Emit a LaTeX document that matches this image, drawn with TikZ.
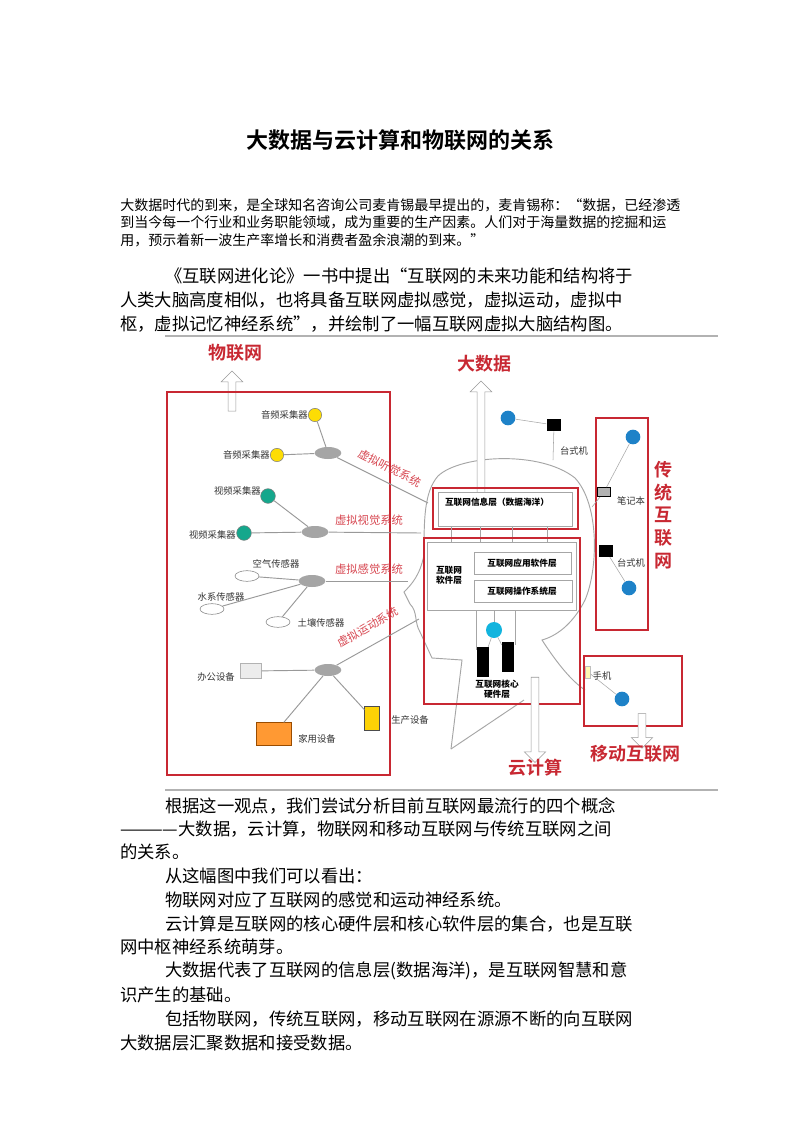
\documentclass[tikz,border=0pt]{standalone}
\usepackage{fontspec}
\setmainfont{Noto Sans CJK SC}
\newfontfamily\cjkbold{Noto Sans CJK SC Bold}
\usetikzlibrary{shapes.arrows,shapes.geometric}
\definecolor{boxred}{RGB}{200,40,50}
\definecolor{labred}{RGB}{215,70,80}
\definecolor{hubgray}{RGB}{165,165,165}
\definecolor{headblue}{RGB}{30,130,200}
\tikzset{
  txt/.style={anchor=west,inner sep=0pt,font=\fontsize{13}{15}\selectfont},
  smalltxt/.style={anchor=west,inner sep=0pt,font=\fontsize{10.5}{12}\selectfont},
  redbox/.style={draw=boxred,line width=1.2pt},
  graybox/.style={draw=gray!70,line width=0.6pt},
  bigred/.style={text=boxred,font=\cjkbold\fontsize{13.5}{15}\selectfont,inner sep=0pt},
  sysred/.style={text=labred,font=\fontsize{8.5}{10}\selectfont,inner sep=0pt},
  devtxt/.style={font=\fontsize{7}{8}\selectfont,inner sep=0pt,text=black!80},
  laytxt/.style={font=\bfseries\fontsize{6.5}{7.5}\selectfont,inner sep=0pt},
  hub/.style={ellipse,fill=hubgray,minimum width=20pt,minimum height=9pt,inner sep=0pt},
  sensor/.style={ellipse,draw=gray,minimum width=18pt,minimum height=8pt,inner sep=0pt},
  link/.style={draw=gray!80,line width=0.7pt},
  hollow/.style={single arrow,draw=gray!80,fill=white,single arrow head extend=4pt,minimum width=16pt,inner sep=2pt},
  person/.style={circle,fill=headblue,minimum size=11pt,inner sep=0pt},
  screen/.style={rectangle,fill=black,minimum width=11pt,minimum height=9pt,inner sep=0pt},
  audio/.style={circle,fill=yellow!80!orange,draw=gray,minimum size=10pt,inner sep=0pt},
  video/.style={circle,fill=headblue!70!green,draw=gray,minimum size=11pt,inner sep=0pt}
}
\begin{document}
\begin{tikzpicture}[x=0.75pt,y=-0.75pt]
\useasboundingbox (0,0) rectangle (800,1132);
\fill[white] (0,0) rectangle (800,1132);

% title and first paragraphs
\node[font=\cjkbold\fontsize{16.5}{18}\selectfont,inner sep=0pt] (title) at (400,140) {大数据与云计算和物联网的关系};
\node[smalltxt] (p1a) at (120,205) {大数据时代的到来，是全球知名咨询公司麦肯锡最早提出的，麦肯锡称：“数据，已经渗透};
\node[smalltxt] (p1b) at (120,222) {到当今每一个行业和业务职能领域，成为重要的生产因素。人们对于海量数据的挖掘和运};
\node[smalltxt] (p1c) at (120,240) {用，预示着新一波生产率增长和消费者盈余浪潮的到来。”};
\node[txt] (p2a) at (165,276) {《互联网进化论》一书中提出“互联网的未来功能和结构将于};
\node[txt] (p2b) at (120,300) {人类大脑高度相似，也将具备互联网虚拟感觉，虚拟运动，虚拟中};
\node[txt] (p2c) at (120,324) {枢，虚拟记忆神经系统”，并绘制了一幅互联网虚拟大脑结构图。};

% frame lines
\draw[gray!60,line width=1.2pt] (165,336) -- (718,336);
\draw[gray!60,line width=1.2pt] (165,790) -- (718,790);

% Internet of things
\node[bigred] (iot) at (235,353) {物联网};
\node[hollow,shape border rotate=90,minimum height=30pt] (iotarrow) at (232,393) {};
\draw[redbox] (167,392) rectangle (390,775);

\node[hub] (hub1) at (328,453) {};
\node[audio] (au1) at (315,415) {};
\node[devtxt,anchor=east] (au1t) at (308,415) {音频采集器};
\node[audio] (au2) at (277,455) {};
\node[devtxt,anchor=east] (au2t) at (270,455) {音频采集器};
\draw[link] (au1) -- (hub1);
\draw[link] (au2) -- (hub1);
\coordinate (ear) at (428,503);
\draw[link] (hub1) -- (ear);
\node[sysred,rotate=-27] (sys1) at (390,468) {虚拟听觉系统};

\node[hub] (hub2) at (315,532) {};
\node[video] (vi1) at (268,496) {};
\node[devtxt,anchor=east] (vi1t) at (261,491) {视频采集器};
\node[video] (vi2) at (244,533) {};
\node[devtxt,anchor=east] (vi2t) at (236,535) {视频采集器};
\draw[link] (vi1) -- (hub2);
\draw[link] (vi2) -- (hub2);
\coordinate (eye) at (421,533);
\draw[link] (hub2) -- (eye);
\node[sysred] (sys2) at (369,520) {虚拟视觉系统};

\node[hub] (hub3) at (312,581) {};
\node[sensor] (se1) at (247,576) {};
\node[devtxt] (se1t) at (276,564) {空气传感器};
\node[sensor] (se2) at (212,609) {};
\node[devtxt] (se2t) at (221,597) {水系传感器};
\node[sensor] (se3) at (278,622) {};
\node[devtxt] (se3t) at (321,623) {土壤传感器};
\draw[link] (se1) -- (hub3);
\draw[link] (se2) -- (hub3);
\draw[link] (se3) -- (hub3);
\coordinate (nose) at (408,581);
\draw[link] (hub3) -- (nose);
\node[sysred] (sys3) at (369,569) {虚拟感觉系统};

\node[hub] (hub4) at (328,670) {};
\node[rectangle,fill=gray!15,draw=gray!60,minimum width=16pt,minimum height=11pt,inner sep=0pt] (office) at (251,671) {};
\node[devtxt,anchor=east] (officet) at (235,677) {办公设备};
\node[rectangle,fill=orange!80,draw=orange!60!black,minimum width=26pt,minimum height=17pt,inner sep=0pt] (home) at (274,734) {};
\node[devtxt] (homet) at (317,739) {家用设备};
\node[rectangle,fill=yellow!70!orange,draw=black!70,minimum width=11pt,minimum height=18pt,inner sep=0pt] (fork) at (372,718) {};
\node[devtxt] (forkt) at (410,720) {生产设备};
\draw[link] (office) -- (hub4);
\draw[link] (home) -- (hub4);
\draw[link] (fork) -- (hub4);
\coordinate (mouth) at (419,619);
\draw[link] (hub4) -- (mouth);
\node[sysred,rotate=30] (sys4) at (368,627) {虚拟运动系统};

% head outline
\draw[gray!70,line width=0.7pt] (451,749) -- (462,660) -- (432,658) -- (420,632)
  .. controls (414,622) and (418,612) .. (410,604) -- (404,592)
  .. controls (412,584) and (420,575) .. (424,555)
  .. controls (424,520) and (424,492) .. (438,476)
  .. controls (460,455) and (540,450) .. (575,478)
  .. controls (600,505) and (598,570) .. (585,600)
  .. controls (575,620) and (560,635) .. (542,640)
  .. controls (555,660) and (570,680) .. (585,690);
\draw[gray!70,line width=0.7pt] (524,700) -- (451,749);

% big data / information layer
\node[bigred] (bigdata) at (484,364) {大数据};
\node[hollow,shape border rotate=90,minimum height=84pt] (bdarrow) at (481,439) {};
\draw[redbox] (433,488) rectangle (578,529);
\draw[graybox,fill=white] (438,492) rectangle (572,526);
\node[laytxt] (info) at (497,502) {互联网信息层（数据海洋）};
\foreach \xx in {451,480,512,547} \draw[gray!70] (\xx,526) -- (\xx,542);

% software and hardware layers
\draw[redbox] (424,538) rectangle (580,704);
\draw[graybox,fill=white] (427,542) rectangle (576,610);
\node[laytxt,align=center] (soft) at (449,575) {互联网\\软件层};
\draw[graybox] (474,552) rectangle (571,574);
\node[laytxt] (app) at (522,563) {互联网应用软件层};
\draw[graybox] (474,580) rectangle (572,602);
\node[laytxt] (os) at (522,591) {互联网操作系统层};
\node[circle,fill=headblue!60!cyan,minimum size=12pt,inner sep=0pt] (router) at (494,630) {};
\node[rectangle,fill=black,minimum width=9pt,minimum height=22pt,inner sep=0pt] (srv1) at (483,662) {};
\node[rectangle,fill=black,minimum width=9pt,minimum height=22pt,inner sep=0pt] (srv2) at (508,657) {};
\draw[gray!70] (476,610) -- (476,650);
\draw[gray!70] (494,610) -- (router);
\draw[gray!70] (515,610) -- (515,645);
\draw[gray!70] (router) -- (srv1);
\draw[gray!70] (router) -- (srv2);
\node[laytxt,align=center] (hard) at (497,689) {互联网核心\\硬件层};

% cloud computing
\node[hollow,shape border rotate=270,minimum height=64pt] (ccarrow) at (535,718) {};
\node[bigred] (cloud) at (535,768) {云计算};

% traditional internet
\draw[redbox] (596,418) rectangle (648,630);
\node[bigred,align=center,font=\cjkbold\fontsize{13.5}{17}\selectfont] (trad) at (663,515) {传\\统\\互\\联\\网};
\node[person] (pa) at (508,418) {};
\node[screen] (pca) at (554,425) {};
\node[devtxt] (pcat) at (574,451) {台式机};
\draw[gray!70] (pa) -- (pca);
\draw[gray!70] (pca) -- (553,460);
\node[person] (pb) at (633,437) {};
\node[rectangle,fill=gray!60,draw=black,minimum width=10pt,minimum height=7pt,inner sep=0pt] (lap) at (604,492) {};
\node[devtxt] (lapt) at (631,501) {笔记本};
\draw[gray!70] (lap) -- (pb);
\draw[gray!70] (lap) -- (592,507);
\node[screen] (pcb) at (606,551) {};
\node[devtxt] (pcbt) at (631,563) {台式机};
\node[person] (pc) at (629,588) {};
\draw[gray!70] (pcb) -- (pc);

% mobile internet
\draw[redbox] (584,656) rectangle (682,726);
\node[rectangle,fill=yellow!30,draw=gray!50,minimum width=4pt,minimum height=9pt,inner sep=0pt] (phone) at (588,672) {};
\node[devtxt] (phonet) at (602,676) {手机};
\node[person] (pd) at (622,699) {};
\draw[gray!70] (phone) -- (pd);
\node[hollow,shape border rotate=270,minimum height=26pt] (mbarrow) at (642,729) {};
\node[bigred] (mobile) at (635,754) {移动互联网};

% remaining paragraphs
\node[txt] (p3a) at (165,806) {根据这一观点，我们尝试分析目前互联网最流行的四个概念};
\node[txt] (p3b) at (120,829) {————大数据，云计算，物联网和移动互联网与传统互联网之间};
\node[txt] (p3c) at (120,852) {的关系。};
\node[txt] (p4) at (165,876) {从这幅图中我们可以看出：};
\node[txt] (p5) at (165,900) {物联网对应了互联网的感觉和运动神经系统。};
\node[txt] (p6a) at (165,924) {云计算是互联网的核心硬件层和核心软件层的集合，也是互联};
\node[txt] (p6b) at (120,947) {网中枢神经系统萌芽。};
\node[txt] (p7a) at (165,971) {大数据代表了互联网的信息层(数据海洋)，是互联网智慧和意};
\node[txt] (p7b) at (120,995) {识产生的基础。};
\node[txt] (p8a) at (165,1019) {包括物联网，传统互联网，移动互联网在源源不断的向互联网};
\node[txt] (p8b) at (120,1043) {大数据层汇聚数据和接受数据。};
\end{tikzpicture}
\end{document}
